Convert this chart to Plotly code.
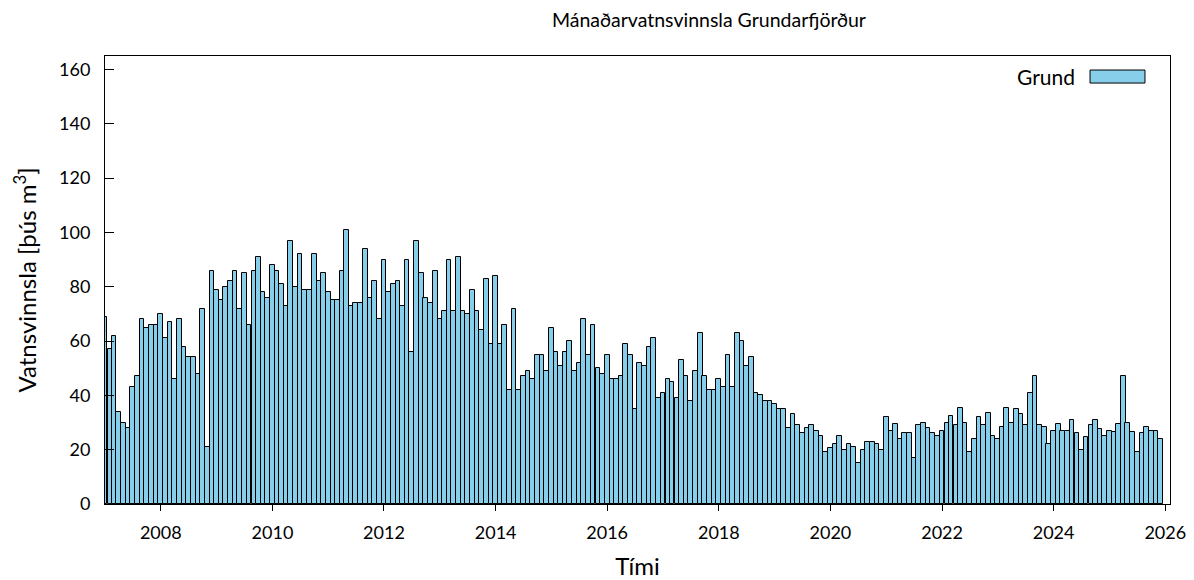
import pandas as pd
import plotly.graph_objects as go

# Monthly water production, Jan 2007 - Dec 2025 (thousand m3)
start_month = "2007-01-01"
n_months = 228
series_name = "Grund"
values = [
    69, 57, 62, 34, 30, 28, 43, 47, 68, 65, 66, 66,          # 2007
    70, 61, 67, 46, 68, 58, 54, 54, 48, 72, 21, 86,          # 2008
    79, 75, 80, 82, 86, 72, 85, 66, 86, 91, 78, 76,          # 2009
    88, 86, 81, 73, 97, 80, 92, 79, 79, 92, 82, 85,          # 2010
    78, 75, 75, 86, 101, 73, 74, 74, 94, 76, 82, 68,         # 2011
    90, 78, 81, 82, 73, 90, 56, 97, 85, 76, 74, 86,          # 2012
    68, 71, 90, 71, 91, 71, 70, 79, 71, 64, 83, 59,          # 2013
    84, 59, 66, 42, 72, 42, 47, 49, 46, 55, 55, 49,          # 2014
    65, 56, 51, 56, 60, 49, 52, 68, 55, 66, 50, 48,          # 2015
    55, 46, 46, 47, 59, 55, 35, 52, 51, 58, 61, 39,          # 2016
    41, 46, 45, 39, 53, 47, 38, 49, 63, 47, 42, 42,          # 2017
    46, 43, 55, 43, 63, 60, 51, 54, 41, 40, 38, 38,          # 2018
    37, 35, 35, 28, 33, 29, 26, 28, 29, 27, 25, 19,          # 2019
    20.5, 22, 25, 20, 22, 21, 15, 20, 23, 23, 22, 20,        # 2020
    32, 27, 29.5, 24, 26, 26, 17, 29, 30, 28, 26, 25,        # 2021
    27, 30, 32.5, 29, 35.5, 30, 19, 24, 32, 29, 33.5, 25,    # 2022
    24, 28.5, 35.5, 30, 35, 33, 29, 41, 47, 29, 28.5, 22,    # 2023
    27, 29.5, 27, 27, 31, 26, 20, 24.5, 29, 31, 27.5, 25,    # 2024
    27, 26.5, 29.5, 47, 30, 26.5, 19, 26, 28.5, 27, 27, 24,  # 2025
]
y_ticks = [0, 20, 40, 60, 80, 100, 120, 140, 160]

dates = pd.date_range(start_month, periods=n_months + 1, freq="MS")
bar_x = dates[:-1]
# each bar spans its own month length
bar_w = [(dates[i + 1] - dates[i]).total_seconds() * 1000 for i in range(n_months)]

FONT = "Lato, 'Open Sans', sans-serif"
FILL = "#87CEEB"

fig = go.Figure()
fig.add_trace(go.Bar(
    x=bar_x, y=values, name=series_name, width=bar_w,
    marker=dict(color=FILL, line=dict(color="black", width=1)),
    showlegend=False,
))

# page body has an 8px margin, so the figure is 8px smaller than the window
fig.update_layout(
    width=1186, height=572,
    margin=dict(l=97, r=24, t=48, b=76, autoexpand=False),
    paper_bgcolor="white", plot_bgcolor="white",
    font=dict(family=FONT, size=18, color="black"),
    title=dict(text="Mánaðarvatnsvinnsla Grundarfjörður", xref="container", x=0.591,
               xanchor="center", y=0.979, yanchor="middle",
               font=dict(size=19.5, family=FONT, color="black")),
    bargap=0,
)
fig.update_xaxes(
    type="date", range=["2007-01-01", "2026-02-01"], automargin=False,
    tick0="2008-01-01", dtick="M24", tickformat="%Y",
    ticks="outside", ticklen=6, tickcolor="black", ticklabelstandoff=6,
    tickfont=dict(size=18),
    showline=True, linecolor="black", linewidth=1, mirror=True,
    showgrid=False, zeroline=False,
    title=dict(text="Tími", font=dict(size=24, family=FONT), standoff=17),
)
fig.update_yaxes(
    range=[0, 165], tickvals=y_ticks, automargin=False,
    ticks="inside", ticklen=9, tickcolor="black", ticklabelstandoff=10,
    tickfont=dict(size=18),
    showline=True, linecolor="black", linewidth=1, mirror=True,
    showgrid=False, zeroline=False,
    title=dict(text="Vatnsvinnsla [þús m<sup>3</sup>]", font=dict(size=24, family=FONT), standoff=15),
)

# legend key (gnuplot style)
fig.add_annotation(text=series_name, xref="paper", yref="paper", x=0.9127, y=0.9553,
                   xanchor="right", yanchor="middle", showarrow=False,
                   font=dict(size=21, family=FONT, color="black"))
fig.add_shape(type="rect", xref="paper", yref="paper", x0=0.9249, x1=0.9765, y0=0.9396, y1=0.9687,
              fillcolor=FILL, line=dict(color="black", width=1))

fig.write_html("out.html")
